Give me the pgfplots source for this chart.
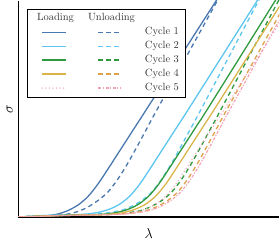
\documentclass[border=0pt]{standalone}
\usepackage{pgfplots}
\pgfplotsset{compat=1.18}
\definecolor{colA}{HTML}{4A78B0}
\definecolor{colB}{HTML}{5CC6F0}
\definecolor{colC}{HTML}{2E9A3E}
\definecolor{colD}{HTML}{D9B44A}
\definecolor{colDu}{HTML}{DDA24C}
\definecolor{colE}{HTML}{F4A3B3}
\tikzset{
 lsolid/.style={solid, line width=1.3pt},
 ldash/.style={dash pattern=on 4.5pt off 3.5pt, line width=1.3pt},
 ldot/.style={line cap=round, dash pattern=on 0pt off 3.6pt, line width=1.5pt},
 ldashdot/.style={dash pattern=on 3pt off 1.5pt on 1.2pt off 1.5pt, line width=1.2pt},
}
\pgfplotsset{
 legL/.style={legend image code/.code={\path (0pt,0pt); \draw[##1] (14pt,0pt) -- (38pt,0pt);}},
 legU/.style={legend image code/.code={\path (0pt,0pt); \draw[##1] (30pt,0pt) -- (53pt,0pt); \path (75pt,0pt);}},
}
\begin{document}
\begin{tikzpicture}
\begin{axis}[
 scale only axis, width=262pt, height=217pt,
 xmin=0, xmax=262, ymin=0, ymax=217,
 axis x line*=bottom, axis y line*=left,
 axis line style={-, line width=1.1pt, black},
 xtick=\empty, ytick=\empty,
 xlabel={$\lambda$}, ylabel={$\sigma$},
 label style={font=\Large},
 xlabel style={at={(axis description cs:0.5,0)}, anchor=north, inner sep=0pt, yshift=-11pt, text depth=3pt},
 ylabel style={at={(axis description cs:0,0.5)}, anchor=south, inner sep=0pt, yshift=5pt, text height=13pt},
 legend columns=3,
 legend style={at={(0.034,0.963)}, anchor=north west, draw=black, line width=0.9pt, fill=white,
   font=\fontsize{10.5}{12}\selectfont, text=black!80, inner xsep=0pt, inner ysep=4.5pt,
   column sep=0pt, row sep=4.5pt, nodes={inner sep=0pt, text height=7.5pt, text depth=2pt}},
 legend cell align=left,
]
% ---- Cycle 1
\addplot[colA, lsolid, smooth, tension=0.5, forget plot] coordinates {(0,0) (10,0.15) (20,0.5) (30,1.3) (40,3) (50,6.5) (60,12) (70,20.5) (80,33) (90,48) (100,63.5) (110,79) (120,94.5) (130,110) (207,230)};
\addplot[colA, ldash, smooth, tension=0.5, forget plot] coordinates {(0,0) (20,0.3) (40,1.5) (50,3) (60,5.5) (70,10) (80,16.5) (90,25) (100,38) (110,54) (120,72) (130,90.5) (140,109) (207,230)};
% ---- Cycle 2
\addplot[colB, lsolid, smooth, tension=0.5, forget plot] coordinates {(0,0) (21,1.2) (42,2) (52,2.15) (62,2.5) (72,3.3) (82,5) (92,8) (102,13) (112,21) (122,33) (132,48) (142,63.5) (152,79) (162,94.5) (172,110) (248,230)};
\addplot[colB, ldash, smooth, tension=0.5, forget plot] coordinates {(0,0) (22,1.2) (44,2) (64,2.3) (84,3.5) (94,4.8) (104,6.8) (114,10.8) (124,16.5) (134,25) (144,38) (154,54) (164,72) (174,90.5) (184,109) (248,230)};
% ---- Cycle 3
\addplot[colC, lsolid, smooth, tension=0.5, forget plot] coordinates {(0,0) (30,1.2) (61,2) (71,2.15) (81,2.5) (91,3.3) (101,5) (111,8) (121,13) (131,21) (141,33) (151,48) (161,63.5) (171,79) (181,94.5) (191,110) (266,230)};
\addplot[colC, ldash, smooth, tension=0.5, forget plot] coordinates {(0,0) (31,1.2) (64,2) (84,2.3) (104,3.5) (114,4.8) (124,6.8) (134,10.8) (144,16.5) (154,25) (164,38) (174,54) (184,72) (194,90.5) (204,109) (268,230)};
% ---- Cycle 4
\addplot[colD, lsolid, smooth, tension=0.5, forget plot] coordinates {(0,0) (34,1.2) (68,2) (78,2.15) (88,2.5) (98,3.3) (108,5) (118,8) (128,13) (138,21) (148,33) (158,48) (168,63.5) (178,79) (188,94.5) (198,110) (274,230)};
\addplot[colDu, ldash, smooth, tension=0.5, forget plot] coordinates {(0,0) (35,1.2) (70,2) (90,2.3) (110,3.5) (120,4.8) (130,6.8) (140,10.8) (150,16.5) (160,25) (170,38) (180,54) (190,72) (200,90.5) (210,109) (277,230)};
% ---- Cycle 5
\addplot[colE, ldot, smooth, tension=0.5, forget plot] coordinates {(0,0) (39,1.2) (78,2) (88,2.15) (98,2.5) (108,3.3) (118,5) (128,8) (138,13) (148,21) (158,33) (168,48) (178,63.5) (188,79) (198,94.5) (208,110) (285,230)};
\addplot[colE, ldashdot, smooth, tension=0.5, forget plot] coordinates {(0,0) (36,1.2) (73,2) (93,2.3) (113,3.5) (123,4.8) (133,6.8) (143,10.8) (153,16.5) (163,25) (173,38) (183,54) (193,72) (203,90.5) (213,109) (280,230)};
% ---- legend
\addlegendimage{empty legend}
\addlegendentry{\hspace*{-12pt}\makebox[0pt][c]{Loading}\hspace*{12pt}}
\addlegendimage{empty legend}
\addlegendentry{\hspace*{-33pt}\makebox[0pt][c]{Unloading}\hspace*{33pt}}
\addlegendimage{empty legend}
\addlegendentry{}
\addlegendimage{legL, colA, lsolid}\addlegendentry{}
\addlegendimage{legU, colA, ldash}\addlegendentry{}
\addlegendimage{empty legend}\addlegendentry{Cycle 1\hspace*{6pt}}
\addlegendimage{legL, colB, lsolid}\addlegendentry{}
\addlegendimage{legU, colB, ldash}\addlegendentry{}
\addlegendimage{empty legend}\addlegendentry{Cycle 2\hspace*{6pt}}
\addlegendimage{legL, colC, lsolid}\addlegendentry{}
\addlegendimage{legU, colC, ldash}\addlegendentry{}
\addlegendimage{empty legend}\addlegendentry{Cycle 3\hspace*{6pt}}
\addlegendimage{legL, colD, lsolid}\addlegendentry{}
\addlegendimage{legU, colDu, ldash}\addlegendentry{}
\addlegendimage{empty legend}\addlegendentry{Cycle 4\hspace*{6pt}}
\addlegendimage{legL, colE, ldot}\addlegendentry{}
\addlegendimage{legU, colE, ldashdot}\addlegendentry{}
\addlegendimage{empty legend}\addlegendentry{Cycle 5\hspace*{6pt}}
\end{axis}
\end{tikzpicture}
\end{document}
